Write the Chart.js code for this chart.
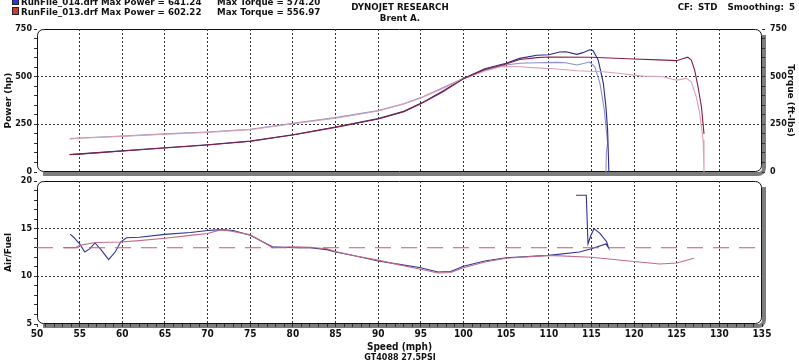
<!DOCTYPE html>
<html>
<head>
<meta charset="utf-8">
<script src="https://cdn.jsdelivr.net/npm/chart.js@4.4.0/dist/chart.umd.min.js"></script>
<style>
  html, body { margin: 0; padding: 0; background: #fff; }
  #wrap { position: relative; width: 799px; height: 364px; overflow: hidden; font: bold 8.7px "DejaVu Sans", sans-serif; color: #111; }
  canvas { position: absolute; left: 0; top: 0; }
  .t { position: absolute; white-space: pre; line-height: 1; }
  .sq { position: absolute; width: 5px; height: 6px; border: 1px solid #222; }
</style>
</head>
<body>
<div id="wrap">
  <canvas id="topChart" width="799" height="364"></canvas>
  <canvas id="afrChart" width="799" height="364"></canvas>

  <div class="sq" style="left:12px;top:-3px;background:#2a3ad0"></div>
  <div class="t" style="left:21px;top:-2px">RunFile_014.drf Max Power = 641.24</div>
  <div class="t" style="left:217px;top:-2px">Max Torque = 574.20</div>
  <div class="sq" style="left:12px;top:7px;background:#d03838"></div>
  <div class="t" style="left:21px;top:8px">RunFile_013.drf Max Power = 602.22</div>
  <div class="t" style="left:217px;top:8px">Max Torque = 556.97</div>
  <div class="t" style="left:300px;width:200px;text-align:center;top:3px">DYNOJET RESEARCH</div>
  <div class="t" style="left:300px;width:200px;text-align:center;top:14px">Brent A.</div>
  <div class="t" style="right:4px;top:3px;word-spacing:2px">CF: STD  Smoothing: 5</div>
  <div class="t" style="left:300px;width:200px;text-align:center;top:354px;font-size:8px">GT4088 27.5PSI</div>
</div>

<script>
// ── Run 014 (blue) ──
const r014PowerSpeed = [53.9, 55, 60, 65, 70, 75, 80, 85, 90, 93, 95, 97.5, 100, 102.5, 105, 106.6, 108.6, 110, 111.3, 112, 113.3, 114, 114.8, 115.2, 115.8, 116.4, 116.7, 116.9, 117.05];
const r014Power      = [92, 95, 111, 127, 143, 162, 195, 236, 280, 318, 360, 422, 491, 542, 570, 596, 612, 615, 629, 631, 617, 626, 641, 636, 587, 465, 343, 220, 0];
const r014TorqueSpeed = [53.9, 55, 60, 65, 70, 75, 80, 85, 90, 93, 95, 97.5, 100, 102.5, 105, 106.6, 108.6, 111, 112, 113.3, 114.8, 115.4, 116.0, 116.5, 116.9, 116.75, 116.7];
const r014Torque      = [175, 178, 189, 200, 210, 224, 255, 285, 322, 358, 390, 440, 491, 533, 561, 570, 573, 575, 573, 561, 577, 552, 465, 330, 150, 100, 0];
const r014AfrSpeed = [53.9, 54.3, 54.7, 55.0, 55.6, 56.2, 56.8, 57.5, 58.4, 59.2, 59.8, 60.5, 62, 65, 68, 70, 71.6, 73, 75, 76.5, 77.6, 80, 82, 84, 85, 87.5, 90, 92.5, 95, 97, 98.5, 100, 102.5, 105, 110, 113.6, 115, 116.7, 117.0, 116.8, 116.0, 115.3, 114.9, 114.6, 114.4, 113.2];
const r014Afr      = [14.4, 14.1, 13.7, 13.4, 12.55, 12.9, 13.5, 12.8, 11.75, 12.6, 13.6, 14.05, 14.1, 14.4, 14.6, 14.8, 14.9, 14.8, 14.3, 13.6, 13.1, 13.0, 13.0, 12.8, 12.55, 12.1, 11.6, 11.25, 10.9, 10.45, 10.5, 11.05, 11.6, 11.95, 12.2, 12.55, 12.9, 13.4, 13.0, 13.6, 14.5, 15.0, 14.2, 13.4, 18.5, 18.5];

// ── Run 013 (red) ──
const r013PowerSpeed = [53.8, 55, 60, 65, 70, 75, 80, 85, 90, 93, 95, 97.5, 100, 102.5, 105, 106.6, 108.6, 110, 115, 120, 122.9, 125, 125.5, 126.3, 126.7, 127.1, 127.5, 127.9, 128.2];
const r013Power      = [91, 94, 110, 126, 142, 161, 194, 234, 278, 316, 358, 418, 489, 538, 566, 590, 600, 603, 602, 593, 588, 584, 591, 602, 588, 535, 447, 342, 200];
const r013TorqueSpeed = [53.8, 55, 60, 65, 70, 75, 80, 85, 90, 93, 95, 97.5, 100, 102.5, 104.5, 106.6, 108.6, 111, 113.3, 116.4, 118.4, 121, 123.4, 124.5, 125, 126.1, 126.7, 127.3, 127.7, 128.1, 128.2];
const r013Torque      = [173, 177, 187, 198, 208, 222, 253, 282, 320, 357, 388, 436, 489, 530, 553, 552, 546, 540, 531, 526, 517, 503, 500, 486, 482, 491, 474, 394, 306, 166, 0];
const r013AfrSpeed = [53.2, 54.5, 55, 56.8, 59.8, 62, 65, 68, 70, 71.6, 73, 75, 76.5, 77.6, 80, 82, 84, 85, 87.5, 90, 92.5, 95, 97, 98.5, 100, 102.5, 105, 110, 115, 120, 123, 125, 127];
const r013Afr      = [13.0, 13.0, 13.25, 13.55, 13.6, 13.75, 14.0, 14.3, 14.5, 14.9, 14.7, 14.35, 13.6, 13.0, 13.1, 13.05, 12.9, 12.6, 12.1, 11.7, 11.2, 10.75, 10.35, 10.4, 10.9, 11.5, 11.9, 12.2, 12.0, 11.55, 11.3, 11.4, 11.9];

// ── Axes ──
const speedRange = [50, 135];
const speedLabels = [50, 55, 60, 65, 70, 75, 80, 85, 90, 95, 100, 105, 110, 115, 120, 125, 130, 135];
const powerLabels = [0, 250, 500, 750];
const afrLabels = [5, 10, 15, 20];
const afrTarget = 13;

const pts = (xs, ys) => xs.map((x, i) => ({ x, y: ys[i] }));

const gridCol = '#333';
const clear = 'rgba(0,0,0,0)';
const tickFont = { family: '"DejaVu Sans", sans-serif', size: 8, weight: 'bold' };
const titleFont = { family: '"DejaVu Sans", sans-serif', size: 9, weight: 'bold' };
const xFont = { family: '"Liberation Sans Narrow", "DejaVu Sans Condensed", "DejaVu Sans", sans-serif', size: 10, weight: 'bold' };

// inner grid line only (not at the frame edges)
const innerOnly = (labels) => (c) => {
    const v = c.tick.value;
    return labels.includes(v) && v !== labels[0] && v !== labels[labels.length - 1] ? gridCol : clear;
};

// rounded frame with grey drop shadow, drawn under grid and lines
const framePlugin = {
    id: 'frame',
    beforeDraw(chart) {
        const { ctx, chartArea: a } = chart;
        const r = 6;
        ctx.save();
        ctx.strokeStyle = '#7d7d7d';
        ctx.lineWidth = 4;
        ctx.beginPath();
        ctx.moveTo(a.right + 2, a.top + r);
        ctx.lineTo(a.right + 2, a.bottom + 2 - r);
        ctx.arcTo(a.right + 2, a.bottom + 2, a.right + 2 - r, a.bottom + 2, r);
        ctx.lineTo(a.left + r, a.bottom + 2);
        ctx.stroke();
        ctx.strokeStyle = '#111';
        ctx.lineWidth = 1;
        ctx.beginPath();
        ctx.roundRect(a.left + 0.5, a.top + 0.5, a.width - 1, a.height - 1, r);
        ctx.stroke();
        ctx.restore();
    }
};

const line = (data, color, width) => ({
    data, borderColor: color, borderWidth: width || 1.1,
    pointRadius: 0, tension: 0, fill: false
});

// ── Power / Torque panel ──
new Chart(document.getElementById('topChart'), {
    type: 'line',
    data: {
        datasets: [
            { ...line(pts(r013PowerSpeed, r013Power), '#8a1f40'), yAxisID: 'yP' },
            { ...line(pts(r013TorqueSpeed, r013Torque), '#dba2b4'), yAxisID: 'yT' },
            { ...line(pts(r014PowerSpeed, r014Power), '#2a2a88'), yAxisID: 'yP' },
            { ...line(pts(r014TorqueSpeed, r014Torque), '#8e8ecc'), yAxisID: 'yT' }
        ]
    },
    options: {
        responsive: false,
        animation: false,
        events: [],
        layout: { padding: { top: 29, bottom: 192, left: 0, right: 0 } },
        plugins: { legend: { display: false }, tooltip: { enabled: false } },
        scales: {
            x: {
                type: 'linear', min: speedRange[0], max: speedRange[1],
                afterFit: s => { s.height = 0; },
                ticks: { display: false, stepSize: 5, autoSkip: false },
                grid: { drawTicks: false, color: innerOnly(speedLabels) },
                border: { display: false, dash: [2, 2] }
            },
            yP: {
                position: 'left', min: 0, max: 750,
                afterFit: s => { s.width = 37; },
                ticks: { stepSize: 50, autoSkip: false, padding: 2, color: '#111', font: tickFont,
                         callback: v => powerLabels.includes(v) ? v : '' },
                grid: { color: innerOnly(powerLabels), tickColor: '#333', tickLength: 3 },
                border: { display: false, dash: [2, 2] },
                title: { display: true, text: 'Power (hp)', color: '#111', font: titleFont, padding: { top: 3, bottom: 0 } }
            },
            yT: {
                position: 'right', min: 0, max: 750,
                afterFit: s => { s.width = 37; },
                ticks: { stepSize: 50, autoSkip: false, padding: 5, color: '#111', font: tickFont,
                         callback: v => powerLabels.includes(v) ? v : '' },
                grid: { drawOnChartArea: false, tickColor: '#333', tickLength: 3 },
                border: { display: false },
                title: { display: true, text: 'Torque (ft-lbs)', color: '#111', font: titleFont, padding: { top: 3, bottom: 0 } }
            }
        }
    },
    plugins: [framePlugin]
});

// ── Air/Fuel panel ──
new Chart(document.getElementById('afrChart'), {
    type: 'line',
    data: {
        datasets: [
            { ...line(pts(speedRange, [afrTarget, afrTarget]), '#c85a6c', 1.2), borderDash: [16, 10] },
            line(pts(r013AfrSpeed, r013Afr), '#c46a88'),
            line(pts(r014AfrSpeed, r014Afr), '#2f3592')
        ]
    },
    options: {
        responsive: false,
        animation: false,
        events: [],
        layout: { padding: { top: 181, bottom: 0, left: 0, right: 37 } },
        plugins: { legend: { display: false }, tooltip: { enabled: false } },
        scales: {
            x: {
                type: 'linear', min: speedRange[0], max: speedRange[1],
                afterFit: s => { s.height = 40; },
                ticks: { stepSize: 1, autoSkip: false, maxRotation: 0, padding: 1, color: '#111', font: xFont,
                         callback: v => speedLabels.includes(v) ? v : '' },
                grid: { color: innerOnly(speedLabels), tickColor: '#333', tickLength: 3 },
                border: { display: false, dash: [2, 2] },
                title: { display: true, text: 'Speed (mph)', color: '#111', font: xFont, padding: { top: 2, bottom: 11 } }
            },
            y: {
                position: 'left', min: 5, max: 20,
                afterFit: s => { s.width = 37; },
                ticks: { stepSize: 1, autoSkip: false, padding: 2, color: '#111', font: tickFont,
                         callback: v => afrLabels.includes(v) ? v : '' },
                grid: { color: innerOnly(afrLabels), tickColor: '#333', tickLength: 3 },
                border: { display: false, dash: [2, 2] },
                title: { display: true, text: 'Air/Fuel', color: '#111', font: titleFont, padding: { top: 3, bottom: 0 } }
            }
        }
    },
    plugins: [framePlugin]
});
</script>
</body>
</html>
